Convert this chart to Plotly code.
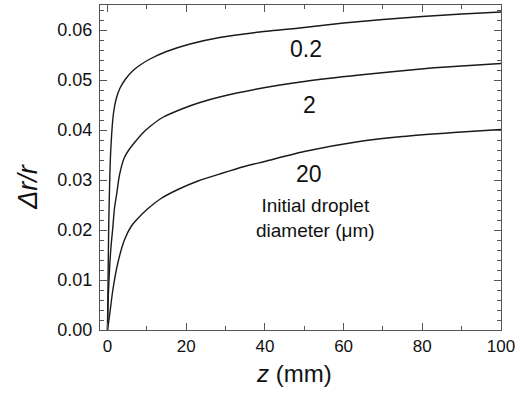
import plotly.graph_objects as go

# Initial droplet diameter 0.2 um
z_a = [0, 0.15, 0.3, 0.6, 0.9, 1.5, 2.2, 3.2, 4.5, 6.5, 8.5, 10.8, 15, 21, 28.5, 38.7, 50, 60, 70, 80, 90, 100]
v_a = [0, 0.010, 0.020, 0.031, 0.037, 0.0432, 0.0462, 0.0484, 0.0501, 0.0519, 0.0531, 0.0542, 0.0557, 0.0572,
       0.0585, 0.0596, 0.0605, 0.0614, 0.0621, 0.0627, 0.0632, 0.0636]

# Initial droplet diameter 2 um
z_b = [0, 0.2, 0.6, 0.93, 1.3, 1.8, 2.3, 3.05, 4.3, 5.6, 7, 9.1, 10.8, 14, 19.2, 23.5, 28.5, 38.7, 50, 64, 81, 90, 100]
v_b = [0, 0.0067, 0.0133, 0.017, 0.020, 0.0245, 0.027, 0.031, 0.0345, 0.0362, 0.0376, 0.0395, 0.0407, 0.0425,
       0.0443, 0.0455, 0.0466, 0.0483, 0.0497, 0.0510, 0.0523, 0.0528, 0.0533]

# Initial droplet diameter 20 um
z_c = [0, 0.5, 1.36, 2.6, 4.3, 6, 7.7, 10.3, 13.6, 17.9, 23, 28.9, 34.8, 39.9, 50, 64, 75, 88, 100]
v_c = [0, 0.0027, 0.008, 0.0133, 0.018, 0.0207, 0.0223, 0.0243, 0.0263, 0.0281, 0.0298, 0.0313, 0.0327,
       0.0337, 0.0357, 0.0377, 0.0387, 0.0395, 0.0401]

labels = ["0.2", "2", "20"]
label_z = [50.4, 51.3, 51.1]
label_v = [0.0563, 0.0451, 0.0313]

x_ticks = [0, 20, 40, 60, 80, 100]
y_ticks = [0, 0.01, 0.02, 0.03, 0.04, 0.05, 0.06]

FONT = "Liberation Sans, Arial, Helvetica, sans-serif"
INK = "#111"
AX = "#555"

fig = go.Figure()
for zz, vv in [(z_a, v_a), (z_b, v_b), (z_c, v_c)]:
    fig.add_trace(go.Scatter(x=zz, y=vv, mode="lines",
                             line=dict(color="#1a1a1a", width=1.4, shape="spline", smoothing=0.7),
                             showlegend=False, hoverinfo="skip"))

for t, xz, yv in zip(labels, label_z, label_v):
    fig.add_annotation(x=xz, y=yv, text=t, showarrow=False,
                       font=dict(family=FONT, size=23, color=INK))
fig.add_annotation(x=52.9, y=0.0224, text="Initial droplet<br>diameter (\u03bcm)", showarrow=False,
                   font=dict(family=FONT, size=19, color=INK))

# axis titles
fig.add_annotation(xref="paper", yref="paper", x=0.484, y=-0.135, xanchor="center", yanchor="middle",
                   text="<i>z</i> (mm)", showarrow=False, font=dict(family=FONT, size=24, color=INK))
fig.add_annotation(xref="paper", yref="paper", x=-0.18, y=0.44, xanchor="center", yanchor="middle",
                   text="<i>\u0394r/r</i>", textangle=-90,
                   showarrow=False, font=dict(family=FONT, size=27, color=INK))

axis_common = dict(showline=True, linecolor=AX, linewidth=1.3, mirror="allticks",
                   ticks="inside", tickcolor=AX, ticklen=7, tickwidth=1.2,
                   showgrid=False, zeroline=False)

fig.update_xaxes(range=[-1.9, 100], tickvals=x_ticks,
                 minor=dict(ticks="inside", ticklen=4, tickcolor=AX, tickwidth=1, dtick=10, tick0=0),
                 tickfont=dict(family=FONT, size=17, color=INK),
                 **axis_common)
fig.update_yaxes(range=[0, 0.065], tickvals=y_ticks, tickformat=".2f", ticklabelstandoff=3,
                 minor=dict(ticks="inside", ticklen=4, tickcolor=AX, tickwidth=1, dtick=0.002, tick0=0),
                 tickfont=dict(family=FONT, size=18, color=INK),
                 **axis_common)

fig.update_layout(width=520, height=396, margin=dict(l=100, r=19, t=5, b=66, autoexpand=False),
                  plot_bgcolor="white", paper_bgcolor="white")
fig.write_html("out.html", config={"displayModeBar": False},
               post_script="document.body.style.margin='0';")
